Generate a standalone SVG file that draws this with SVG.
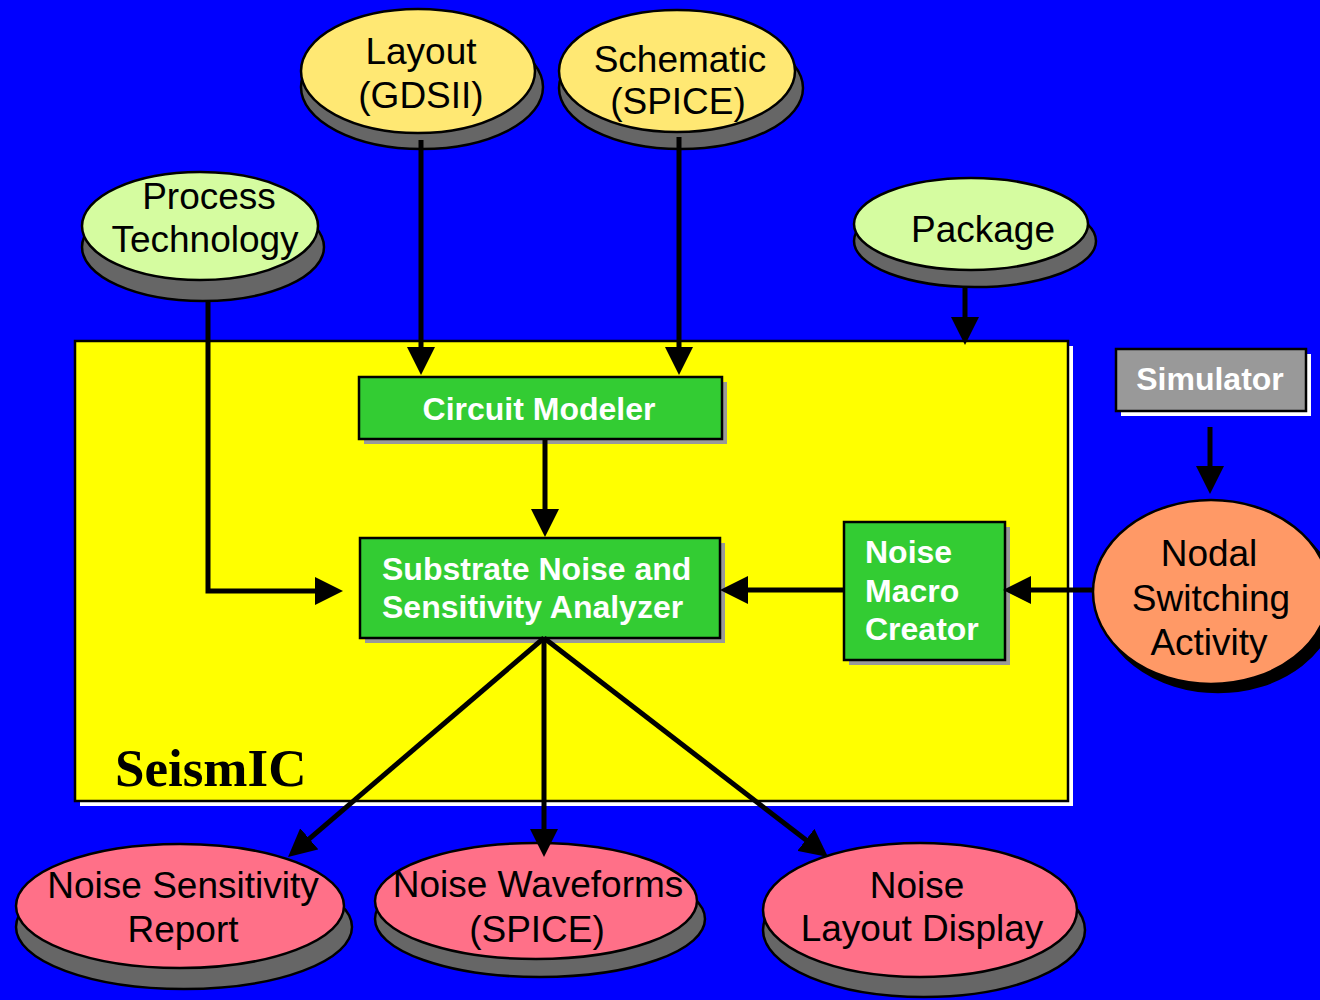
<svg xmlns="http://www.w3.org/2000/svg" width="1320" height="1000" viewBox="0 0 1320 1000">
<style>
.sh{fill:#666666;stroke:#000;stroke-width:2.5}
.el{stroke:#000;stroke-width:2.5}
.y{fill:#FFE873}
.g{fill:#D5FCA0}
.p{fill:#FF7088}
.o{fill:#FF9966}
.box{fill:#33CC33;stroke:#000;stroke-width:2.5}
.et{font-family:"Liberation Sans",Arial,sans-serif;font-size:37px;fill:#000;text-anchor:middle}
.bt{font-family:"Liberation Sans",Arial,sans-serif;font-size:32px;font-weight:bold;fill:#fff}
.c{fill:none;stroke:#000;stroke-width:5}
</style>
<defs>
<marker id="ah" markerUnits="userSpaceOnUse" viewBox="0 0 28 28" refX="22" refY="14" markerWidth="28" markerHeight="28" orient="auto">
<path d="M0,0 L28,14 L0,28 z" fill="#000"/>
</marker>
</defs>
<rect x="0" y="0" width="1320" height="1000" fill="#0000FF"/>

<g id="seismic">
<rect x="80" y="346" width="993" height="460" fill="#fff"/>
<rect x="75" y="341" width="993" height="460" fill="#FFFF00" stroke="#000" stroke-width="2.5"/>
<text x="115" y="786" font-family="'Liberation Serif','Times New Roman',serif" font-size="53" font-weight="bold" fill="#000">SeismIC</text>
</g>

<g id="layout">
<ellipse class="sh" cx="422" cy="87" rx="121" ry="62"/>
<ellipse class="el y" cx="418" cy="71" rx="117" ry="62"/>
<text class="et" x="421" y="64">Layout</text>
<text class="et" x="421" y="108">(GDSII)</text>
</g>

<g id="schematic">
<ellipse class="sh" cx="681" cy="88" rx="122" ry="61"/>
<ellipse class="el y" cx="677" cy="71" rx="118" ry="61"/>
<text class="et" x="680" y="72">Schematic</text>
<text class="et" x="678" y="114">(SPICE)</text>
</g>

<g id="process">
<ellipse class="sh" cx="203" cy="247" rx="121" ry="54"/>
<ellipse class="el g" cx="200" cy="226" rx="118" ry="54"/>
<text class="et" x="209" y="209">Process</text>
<text class="et" x="205" y="252">Technology</text>
</g>

<g id="package">
<ellipse class="sh" cx="975" cy="241" rx="121" ry="46"/>
<ellipse class="el g" cx="971" cy="224" rx="117" ry="46"/>
<text class="et" x="983" y="242">Package</text>
</g>

<g id="simulator">
<rect x="1121" y="354" width="190" height="62" fill="#fff"/>
<rect x="1116" y="349" width="190" height="62" fill="#999999" stroke="#000" stroke-width="2.5"/>
<text class="bt" x="1210" y="390" text-anchor="middle">Simulator</text>
</g>

<g id="circuit-modeler">
<rect x="364" y="382" width="363" height="62" fill="#999999"/>
<rect class="box" x="359" y="377" width="363" height="62"/>
<text class="bt" x="539" y="420" text-anchor="middle">Circuit Modeler</text>
</g>

<g id="analyzer">
<rect x="365" y="543" width="360" height="100" fill="#999999"/>
<rect class="box" x="360" y="538" width="360" height="100"/>
<text class="bt" x="382" y="580">Substrate Noise and</text>
<text class="bt" x="382" y="618">Sensitivity Analyzer</text>
</g>

<g id="macro-creator">
<rect x="849" y="527" width="161" height="138" fill="#999999"/>
<rect class="box" x="844" y="522" width="161" height="138"/>
<text class="bt" x="865" y="563">Noise</text>
<text class="bt" x="865" y="602">Macro</text>
<text class="bt" x="865" y="640">Creator</text>
</g>

<g id="nodal">
<ellipse cx="1218" cy="600" rx="118" ry="92" fill="#000" stroke="#000" stroke-width="2.5"/>
<ellipse class="el o" cx="1211" cy="592" rx="118" ry="92"/>
<text class="et" x="1209" y="566">Nodal</text>
<text class="et" x="1211" y="611">Switching</text>
<text class="et" x="1209" y="655">Activity</text>
</g>

<g id="report">
<ellipse class="sh" cx="184" cy="927" rx="168" ry="62"/>
<ellipse class="el p" cx="180" cy="906" rx="164" ry="62"/>
<text class="et" x="183" y="898">Noise Sensitivity</text>
<text class="et" x="183" y="942">Report</text>
</g>

<g id="waveforms">
<ellipse class="sh" cx="540" cy="919" rx="165" ry="58"/>
<ellipse class="el p" cx="536" cy="901" rx="161" ry="58"/>
<text class="et" x="538" y="897">Noise Waveforms</text>
<text class="et" x="537" y="942">(SPICE)</text>
</g>

<g id="layout-display">
<ellipse class="sh" cx="924" cy="930" rx="161" ry="67"/>
<ellipse class="el p" cx="920" cy="910" rx="157" ry="67"/>
<text class="et" x="917" y="898">Noise</text>
<text class="et" x="922" y="941">Layout Display</text>
</g>

<g id="connectors">
<path class="c" d="M421,140 L421,369" marker-end="url(#ah)"/>
<path class="c" d="M679,137 L679,369" marker-end="url(#ah)"/>
<path class="c" d="M208,300 L208,591 L337,591" marker-end="url(#ah)"/>
<path class="c" d="M965,287 L965,339" marker-end="url(#ah)"/>
<path class="c" d="M1210,427 L1210,488" marker-end="url(#ah)"/>
<path class="c" d="M1093,590 L1009,590" marker-end="url(#ah)"/>
<path class="c" d="M844,590 L726,590" marker-end="url(#ah)"/>
<path class="c" d="M545,439 L545,531" marker-end="url(#ah)"/>
<path class="c" d="M544,638 L292.6,853.1" marker-end="url(#ah)"/>
<path class="c" d="M544,638 L544,851" marker-end="url(#ah)"/>
<path class="c" d="M544,638 L823.3,853.3" marker-end="url(#ah)"/>
</g>
</svg>
